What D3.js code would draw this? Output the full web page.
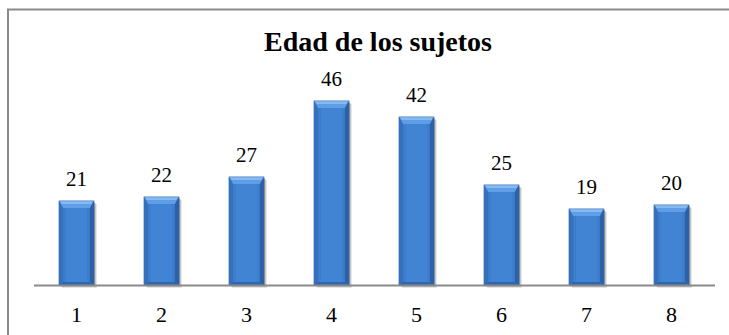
<!DOCTYPE html>
<html>
<head>
<meta charset="utf-8">
<script src="https://cdn.jsdelivr.net/npm/d3@7"></script>
</head>
<body style="margin:0">
<svg id="chart" width="729" height="335"></svg>
<script>
// Ages of the subjects
const categories = ["1", "2", "3", "4", "5", "6", "7", "8"];
const values = [21, 22, 27, 46, 42, 25, 19, 20];
const title = "Edad de los sujetos";

const W = 729, H = 335;
const FONT = "Liberation Serif";
const svg = d3.select("#chart");

const x = d3.scaleBand().domain(categories).range([34, 714]).paddingInner(0.59).paddingOuter(0.295);
const y = d3.scaleLinear().domain([0, 50]).range([285, 85]);

const data = categories.map((c, i) => ({ c, v: values[i] }));
const bw = x.bandwidth();
const bev = 7, side = 4, bot = 3;

// outer frame of the chart area
svg.append("rect")
  .attr("x", 8).attr("y", 9.5).attr("width", W + 20).attr("height", H + 20)
  .attr("fill", "none").attr("stroke", "#8a8a8a").attr("stroke-width", 2);

// title
svg.append("text")
  .attr("x", 378).attr("y", 51)
  .attr("text-anchor", "middle")
  .attr("font-family", FONT)
  .attr("font-size", 28).attr("font-weight", "bold")
  .text(title);

const bars = svg.append("g").selectAll("g").data(data).join("g");

// soft shadow to the right of each bar
[[3, 0.10], [2, 0.14], [1, 0.18]].forEach(([o, a]) => {
  bars.append("rect")
    .attr("x", d => x(d.c) + o).attr("y", d => y(d.v) + o)
    .attr("width", bw).attr("height", d => y(0) - y(d.v))
    .attr("fill", "#000").attr("fill-opacity", a);
});

// bar body
bars.append("rect")
  .attr("x", d => x(d.c)).attr("y", d => y(d.v))
  .attr("width", bw).attr("height", d => y(0) - y(d.v))
  .attr("fill", "#3d7dcd")
  .attr("stroke", "#2b5d9e").attr("stroke-width", 0.8);

// lighter centre strip
bars.append("rect")
  .attr("x", d => x(d.c) + side + 3).attr("y", d => y(d.v) + bev)
  .attr("width", bw - 2 * side - 6).attr("height", d => y(0) - y(d.v) - bev - bot)
  .attr("fill", "#4284d4");

// top bevel
bars.append("path")
  .attr("d", d => {
    const x0 = x(d.c), x1 = x0 + bw, t = y(d.v);
    return `M${x0},${t}L${x1},${t}L${x1 - side},${t + bev}L${x0 + side},${t + bev}Z`;
  })
  .attr("fill", "#5f9ee6");
bars.append("path")
  .attr("d", d => {
    const x0 = x(d.c), x1 = x0 + bw, t = y(d.v);
    return `M${x0 + 1},${t + 0.5}L${x1 - 1},${t + 0.5}L${x1 - 2.5},${t + 3}L${x0 + 2.5},${t + 3}Z`;
  })
  .attr("fill", "#84baf0");

// left and right bevels
bars.append("path")
  .attr("d", d => {
    const x0 = x(d.c), t = y(d.v), b = y(0);
    return `M${x0},${t}L${x0 + side},${t + bev}L${x0 + side},${b - bot}L${x0},${b}Z`;
  })
  .attr("fill", "#3570bb");
bars.append("path")
  .attr("d", d => {
    const x1 = x(d.c) + bw, t = y(d.v), b = y(0);
    return `M${x1},${t}L${x1 - side},${t + bev}L${x1 - side},${b - bot}L${x1},${b}Z`;
  })
  .attr("fill", "#2c61a6");

// bottom bevel
bars.append("path")
  .attr("d", d => {
    const x0 = x(d.c), x1 = x0 + bw, b = y(0);
    return `M${x0},${b}L${x0 + side},${b - bot}L${x1 - side},${b - bot}L${x1},${b}Z`;
  })
  .attr("fill", "#2f67ae");

// category baseline
const [r0, r1] = x.range();
svg.append("line")
  .attr("x1", r0).attr("x2", r1 + 1)
  .attr("y1", y(0) + 0.5).attr("y2", y(0) + 0.5)
  .attr("stroke", "#8a8a8a").attr("stroke-width", 2);

// category labels
svg.append("g").selectAll("text").data(categories).join("text")
  .attr("x", d => x(d) + bw / 2)
  .attr("y", y(0) + 37)
  .attr("text-anchor", "middle")
  .attr("font-family", FONT)
  .attr("font-size", 22)
  .text(d => d);

// value labels
svg.append("g").selectAll("text").data(data).join("text")
  .attr("x", d => x(d.c) + bw / 2)
  .attr("y", d => y(d.v) - 15)
  .attr("text-anchor", "middle")
  .attr("font-family", FONT)
  .attr("font-size", 21)
  .text(d => d.v);
</script>
</body>
</html>
